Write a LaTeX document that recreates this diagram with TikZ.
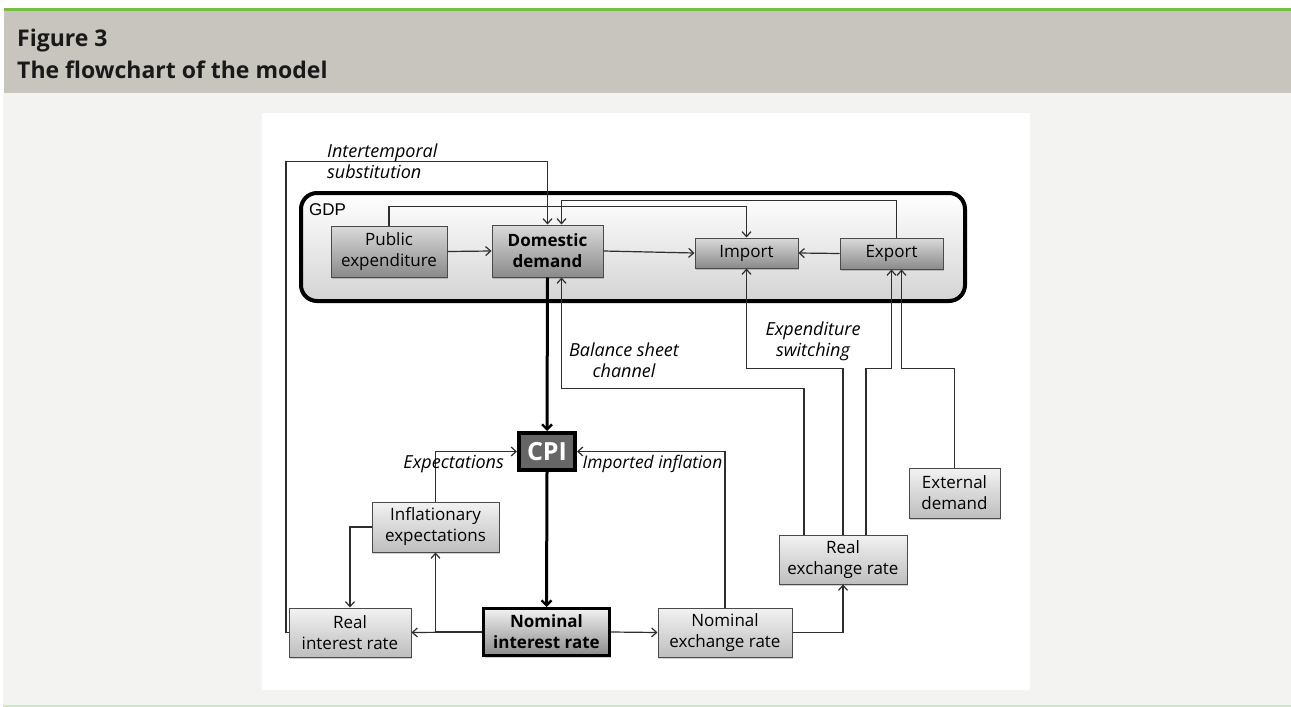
\documentclass[tikz,border=0pt]{standalone}
\usepackage{fontspec}
\setmainfont{Open Sans}
\newfontfamily\gdpfont{Liberation Sans}
\usetikzlibrary{arrows.meta,shadows,calc}
\definecolor{hdrgrey}{HTML}{C8C5BE}
\definecolor{panel}{HTML}{F3F3F1}
\definecolor{grn}{HTML}{78BE45}
\definecolor{lgrn}{HTML}{CFE8C0}
\definecolor{ln}{HTML}{2E2E2E}
\definecolor{bdr}{HTML}{4A4A4A}
\definecolor{dtop}{HTML}{DADADA}
\definecolor{dbot}{HTML}{8A8A8A}
\definecolor{ltop}{HTML}{F2F2F2}
\definecolor{lbot}{HTML}{BEBEBE}
\definecolor{cpifill}{HTML}{666666}
\tikzset{
  box/.style={draw=bdr, line width=1pt, inner sep=0pt, align=center,
    font=\fontsize{17}{21}\selectfont,
    drop shadow={shadow xshift=1pt, shadow yshift=-2pt, opacity=0.18, fill=black}},
  darkbox/.style={box, top color=dtop, bottom color=dbot},
  lightbox/.style={box, top color=ltop, bottom color=lbot},
  arr/.style={draw=ln, line width=1.2pt, -{Straight Barb[length=5pt,width=9pt]}},
  thickarr/.style={draw=black, line width=3pt, -{Straight Barb[length=5pt,width=10pt,line width=2.4pt]}},
  lbl/.style={font=\fontsize{18}{21}\selectfont\itshape, inner sep=0pt, text=black},
  hdr/.style={anchor=base west, inner sep=0pt, font=\fontsize{23}{27}\selectfont\bfseries, text=black!90}
}
\begin{document}
\begin{tikzpicture}[x=1pt,y=-1pt]
\useasboundingbox (0,0) rectangle (1291,707);
% page background
\fill[white] (0,0) rectangle (1291,707);
\fill[grn] (4,7.5) rectangle (1291,10.5);
\fill[hdrgrey] (4,10.5) rectangle (1291,93);
\fill[panel] (3,93) rectangle (1291,705);
\fill[lgrn] (3,705) rectangle (1291,707);
\fill[white] (262,113) rectangle (1030,690);
\node[hdr] (fig) at (17,46) {Figure 3};
\node[hdr] (ttl) at (17,78) {The flowchart of the model};

% GDP container
\draw[line width=4pt, rounded corners=16pt, top color=white, bottom color=black!17] (301,193) rectangle (965,301);
\node[anchor=base west, inner sep=0pt, font=\gdpfont\fontsize{17}{20}\selectfont] (gdp) at (309,215.5) {GDP};

% nodes
\node[darkbox, minimum width=116pt, minimum height=51pt] (pe) at (389,251.5) {Public\\expenditure};
\node[darkbox, minimum width=111pt, minimum height=52pt, font=\fontsize{17}{21}\selectfont\bfseries] (dd) at (547.5,251) {Domestic\\demand};
\node[darkbox, minimum width=103pt, minimum height=30pt] (imp) at (746.5,253) {Import};
\node[darkbox, minimum width=103pt, minimum height=31pt] (exp) at (891.5,253.5) {Export};
\node[box, fill=cpifill, draw=black, line width=4pt, minimum width=56pt, minimum height=37pt, text=white, font=\fontsize{25}{28}\selectfont\bfseries] (cpi) at (547,451.5) {CPI};
\node[lightbox, minimum width=127pt, minimum height=50pt] (ie) at (435.5,527) {Inflationary\\expectations};
\node[lightbox, minimum width=122pt, minimum height=49pt] (rir) at (350,632.5) {Real\\interest rate};
\node[box, top color=ltop, bottom color=dbot, draw=black, line width=3pt, minimum width=126pt, minimum height=47pt, font=\fontsize{17}{21}\selectfont\bfseries] (nir) at (546.5,632) {Nominal\\interest rate};
\node[lightbox, minimum width=134pt, minimum height=49pt] (ner) at (725,632.5) {Nominal\\exchange rate};
\node[lightbox, minimum width=128pt, minimum height=49pt] (rer) at (843,559.5) {Real\\exchange rate};
\node[lightbox, minimum width=91pt, minimum height=50pt] (ext) at (954.5,493) {External\\demand};

% connectors inside GDP
\draw[arr] (pe.east) -- (dd.west);
\draw[arr] (pe.north) -- ++(0,-19) -| (imp.north);
\draw[arr] ($(exp.north)+(5,0)$) -- ++(0,-37) -| ($(dd.north)+(14,0)$);
\draw[arr] (dd.east) -- (imp.west);
\draw[arr] (exp.west) -- (imp.east);

% intertemporal substitution
\draw[arr] (rir.west) -- ++(-2.5,0) |- ($(dd.north)+(0,-63)$) -- (dd.north);
\node[lbl, anchor=west, align=left] (lis) at (327,161) {Intertemporal\\substitution};

% thick CPI chain
\draw[thickarr] (dd.south) -- (cpi.north);
\draw[thickarr] (cpi.south) -- (nir.north);

% balance sheet channel
\draw[arr] ($(rer.north)+(-39,0)$) |- ($(dd.south)+(14,111)$) -- ($(dd.south)+(14,0)$);
\node[lbl, align=center] (lbs) at (624,360) {Balance sheet\\channel};

% expenditure switching
\draw[arr] (rer.north) |- ($(imp.south)+(0,100)$) -- (imp.south);
\node[lbl, align=center] (les) at (813,341) {Expenditure\\switching};

% RER -> Export, External demand -> Export
\draw[arr] ($(rer.north)+(23,0)$) |- ($(exp.south)+(0,99)$) -- (exp.south);
\draw[arr] (ext.north) |- ($(exp.south)+(10,99)$) -- ($(exp.south)+(10,0)$);

% expectations, imported inflation
\draw[arr] (ie.north) |- (cpi.west);
\node[lbl, anchor=east] (lex) at (504,464) {Expectations};
\draw[arr] (ner.north) |- (cpi.east);
\node[lbl, anchor=east, font=\fontsize{17.4}{21}\selectfont\itshape] (lii) at (722.5,464) {Imported inflation};

% bottom row
\draw[arr] (nir.west) -- (rir.east);
\draw[arr] (nir.west) -| (ie.south);
\draw[arr] (ie.west) -| (rir.north);
\draw[arr] (nir.east) -- (ner.west);
\draw[arr] (ner.east) -| (rer.south);
\end{tikzpicture}
\end{document}
